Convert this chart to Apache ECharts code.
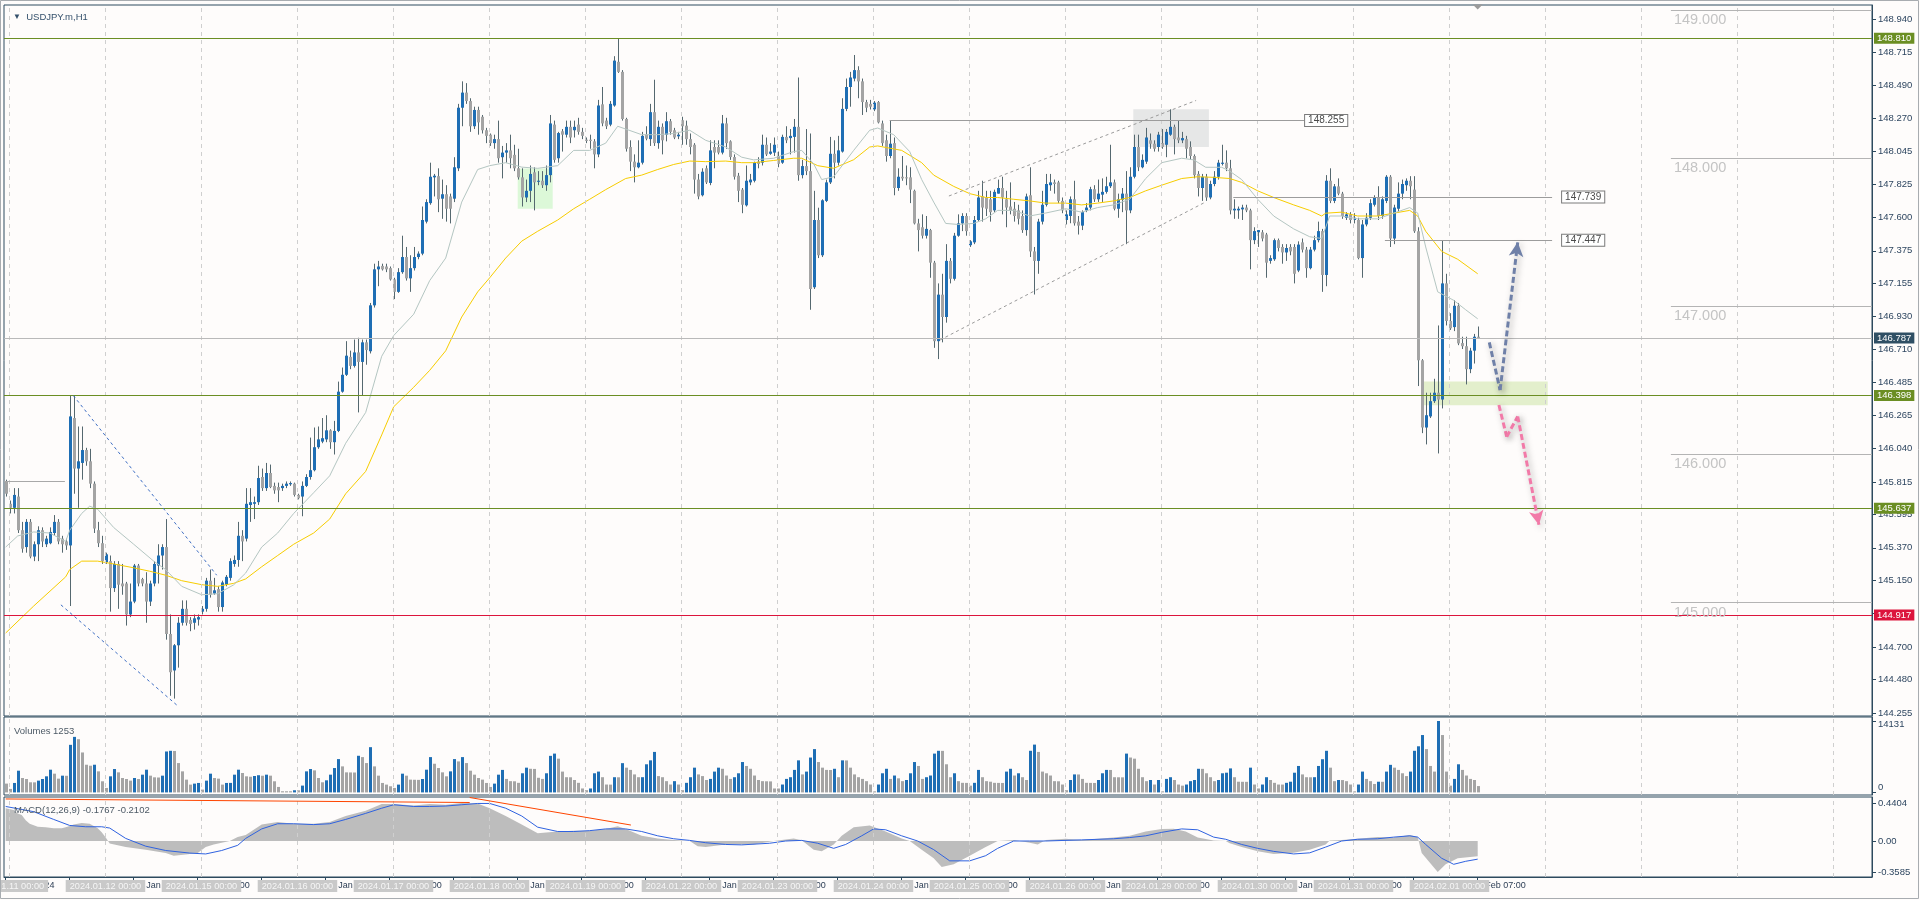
<!DOCTYPE html>
<html><head><meta charset="utf-8">
<script src="https://cdn.jsdelivr.net/npm/echarts@6/dist/echarts.min.js"></script>
<style>html,body{margin:0;padding:0;background:#fefcfb;}#c{width:1920px;height:900px;}</style>
</head><body><div id="c"></div><script>
// ---------------- DATA ----------------
// hourly candles USDJPY.m H1: [open, high, low, close]
const candles = [
[145.818,145.830,145.716,145.735],[145.667,145.689,145.602,145.640],[145.640,145.773,145.602,145.727],[145.716,145.773,145.470,145.489],[145.489,145.545,145.337,145.364],
[145.375,145.564,145.337,145.545],[145.545,145.564,145.299,145.311],[145.311,145.413,145.280,145.394],[145.394,145.515,145.280,145.489],[145.489,145.508,145.375,145.413],
[145.394,145.451,145.375,145.432],[145.401,145.508,145.394,145.477],[145.470,145.591,145.451,145.545],[145.545,145.564,145.394,145.413],[145.432,145.451,145.337,145.394],
[145.413,145.432,145.356,145.386],[145.386,146.398,144.977,146.257],[146.246,146.398,145.735,145.905],[145.905,146.189,145.640,145.954],[145.943,146.189,145.830,146.030],
[146.030,146.045,145.924,145.954],[145.954,146.038,145.773,145.803],[145.803,145.818,145.470,145.500],[145.489,145.545,145.375,145.401],[145.401,145.451,145.261,145.280],
[145.273,145.337,145.261,145.326],[145.280,145.318,144.939,145.098],[145.098,145.280,145.072,145.261],[145.261,145.280,144.958,145.121],[145.129,145.261,145.053,145.110],
[145.129,145.140,144.845,144.920],[144.920,145.129,144.902,145.007],[145.007,145.261,144.996,145.250],[145.250,145.261,145.110,145.129],[145.159,145.167,145.110,145.129],
[145.129,145.205,144.864,145.007],[145.007,145.148,144.977,145.129],[145.129,145.280,145.110,145.261],[145.250,145.394,145.129,145.318],[145.318,145.394,145.223,145.375],
[145.375,145.564,144.750,144.788],[144.788,144.920,144.371,144.530],[144.542,144.720,144.352,144.712],[144.712,144.902,144.561,144.864],[144.864,145.015,144.845,144.958],
[144.958,145.015,144.845,144.864],[144.883,144.902,144.807,144.856],[144.864,144.920,144.818,144.894],[144.886,144.920,144.845,144.902],[144.939,144.977,144.920,144.958],
[144.958,145.167,144.939,145.148],[145.148,145.223,145.034,145.053],[145.061,145.167,145.053,145.083],[145.091,145.110,144.939,144.970],[144.970,145.148,144.939,145.136],
[145.121,145.186,145.110,145.174],[145.167,145.299,145.148,145.280],[145.261,145.318,145.242,145.288],[145.288,145.545,145.242,145.451],[145.451,145.489,145.280,145.413],
[145.432,145.773,145.413,145.667],[145.659,145.773,145.545,145.678],[145.667,145.716,145.564,145.678],[145.678,145.924,145.659,145.841],[145.848,145.905,145.754,145.773],
[145.773,145.943,145.754,145.875],[145.875,145.932,145.773,145.780],[145.788,145.810,145.735,145.758],[145.780,145.810,145.678,145.758],[145.773,145.803,145.754,145.788],
[145.788,145.818,145.773,145.803],[145.799,145.818,145.788,145.807],[145.803,145.810,145.716,145.727],[145.727,145.735,145.697,145.705],[145.716,145.818,145.583,145.788],
[145.788,145.867,145.780,145.848],[145.848,146.114,145.830,145.894],[145.894,146.182,145.886,146.049],[146.049,146.189,146.038,146.102],[146.087,146.246,146.076,146.110],
[146.102,146.265,146.083,146.163],[146.163,146.170,146.038,146.083],[146.083,146.227,146.000,146.159],[146.159,146.492,146.151,146.424],[146.424,146.587,146.417,146.538],
[146.538,146.765,146.530,146.667],[146.659,146.701,146.576,146.598],[146.598,146.776,146.587,146.689],[146.689,146.788,146.284,146.625],[146.625,146.776,146.398,146.757],
[146.757,146.776,146.606,146.705],[146.697,147.023,146.682,147.007],[147.007,147.288,146.992,147.250],[147.250,147.307,147.136,147.269],[147.273,147.288,147.242,147.250],
[147.269,147.288,147.231,147.250],[147.258,147.269,147.174,147.182],[147.182,147.193,147.049,147.098],[147.098,147.258,147.091,147.231],[147.231,147.477,147.220,147.333],
[147.333,147.401,147.174,147.189],[147.189,147.345,147.098,147.258],[147.258,147.401,147.242,147.333],[147.333,147.371,147.318,147.356],[147.356,147.674,147.345,147.583],
[147.572,147.723,147.560,147.704],[147.697,147.970,147.686,147.875],[147.871,147.894,147.742,147.882],[147.879,147.932,147.636,147.723],[147.727,147.856,147.591,147.757],
[147.757,147.818,147.572,147.659],[147.742,147.761,147.560,147.659],[147.727,148.007,147.704,147.939],[147.932,148.367,147.913,148.341],[148.341,148.519,148.216,148.443],
[148.443,148.507,148.367,148.386],[148.386,148.405,148.178,148.216],[148.216,148.348,148.197,148.326],[148.326,148.348,148.159,148.242],[148.280,148.292,148.167,148.189],
[148.189,148.205,148.102,148.151],[148.159,148.167,148.083,148.102],[148.102,148.159,148.064,148.129],[148.129,148.254,147.970,148.000],[148.007,148.083,147.864,148.038],
[148.038,148.102,147.970,148.053],[148.053,148.159,147.932,148.000],[148.023,148.091,147.913,147.932],[147.932,148.064,147.856,147.871],[147.871,147.932,147.674,147.735],
[147.735,147.856,147.704,147.780],[147.780,147.951,147.704,147.894],[147.905,147.939,147.648,147.837],[147.841,147.913,147.818,147.848],[147.848,147.913,147.799,147.818],
[147.818,147.951,147.780,147.886],[147.886,148.292,147.837,148.235],[148.227,148.254,147.970,147.989],[148.000,148.178,147.970,148.170],[148.182,148.197,148.045,148.159],
[148.159,148.254,148.140,148.212],[148.212,148.254,148.102,148.140],[148.189,148.254,148.140,148.212],[148.227,148.273,148.159,148.178],[148.178,148.205,148.129,148.151],
[148.125,148.140,148.102,148.117],[148.125,148.159,148.064,148.117],[148.114,148.129,147.932,148.026],[148.026,148.394,148.007,148.356],[148.364,148.481,148.216,148.235],
[148.254,148.273,148.197,148.216],[148.227,148.386,148.216,148.367],[148.356,148.689,148.348,148.659],[148.651,148.810,148.576,148.583],[148.583,148.595,148.254,148.265],
[148.265,148.273,148.045,148.064],[148.076,148.121,147.913,147.977],[147.977,148.026,147.837,147.939],[147.939,148.121,147.932,147.970],[147.970,148.178,147.958,148.151],
[148.159,148.216,148.121,148.132],[148.129,148.367,148.083,148.311],[148.311,148.530,148.083,148.102],[148.102,148.254,148.064,148.212],[148.212,148.235,148.026,148.121],
[148.159,148.311,148.114,148.250],[148.250,148.265,148.159,148.178],[148.189,148.205,148.129,148.140],[148.148,148.178,148.129,148.159],[148.257,148.280,148.091,148.216],
[148.220,148.254,148.091,148.129],[148.129,148.167,148.026,148.076],[148.091,148.102,147.761,147.856],[147.856,147.894,147.723,147.742],[147.750,147.932,147.742,147.909],
[147.932,147.951,147.826,147.837],[147.833,148.121,147.818,148.053],[148.076,148.121,147.932,148.038],[148.076,148.121,148.026,148.038],[148.038,148.292,148.026,148.235],
[148.235,148.273,148.064,148.102],[148.114,148.121,147.989,148.008],[148.008,148.026,147.856,147.875],[147.882,147.901,147.704,147.780],[147.788,147.799,147.629,147.686],
[147.682,147.951,147.674,147.848],[147.837,147.894,147.818,147.856],[147.848,147.977,147.837,147.970],[147.977,148.007,147.932,147.962],[147.970,148.159,147.951,148.091],
[148.091,148.140,148.015,148.026],[148.030,148.102,148.023,148.045],[148.038,148.140,148.015,148.091],[148.015,148.045,147.939,147.962],[147.970,148.159,147.962,148.144],
[148.144,148.216,148.102,148.121],[148.136,148.197,148.026,148.151],[148.144,148.265,148.038,148.212],[148.212,148.545,147.848,147.886],[147.886,147.989,147.864,147.947],
[147.947,148.197,147.886,147.913],[147.913,148.167,146.977,147.117],[147.129,147.780,147.117,147.583],[147.583,147.666,147.326,147.345],[147.345,147.723,147.333,147.716],
[147.712,147.856,147.704,147.837],[147.837,148.144,147.826,148.030],[148.030,148.121,147.864,147.970],[147.970,148.151,147.951,148.053],[148.045,148.405,148.038,148.333],
[148.333,148.538,148.318,148.481],[148.481,148.583,148.348,148.545],[148.538,148.697,148.519,148.595],[148.595,148.621,148.405,148.519],[148.519,148.538,148.292,148.379],
[148.379,148.394,148.311,148.341],[148.367,148.394,148.329,148.348],[148.330,148.386,148.318,148.375],[148.379,148.386,148.235,148.242],[148.235,148.254,148.083,148.102],
[148.121,148.159,147.977,148.015],[148.015,148.254,148.000,148.098],[148.102,148.140,147.750,147.799],[147.799,147.932,147.780,147.875],[147.875,148.015,147.848,147.864],
[147.871,147.951,147.818,147.864],[147.871,147.939,147.697,147.788],[147.780,147.788,147.553,147.560],[147.560,147.591,147.371,147.515],[147.534,147.621,147.458,147.477],
[147.477,147.610,147.458,147.523],[147.515,147.523,147.193,147.295],[147.295,147.307,146.720,146.765],[146.765,147.155,146.644,147.079],[147.079,147.220,146.757,146.928],
[146.928,147.420,146.890,147.307],[147.307,147.326,147.155,147.186],[147.186,147.496,147.174,147.477],[147.477,147.621,147.470,147.560],[147.560,147.629,147.508,147.610],
[147.610,147.629,147.477,147.508],[147.413,147.447,147.401,147.439],[147.432,147.610,147.420,147.583],[147.583,147.780,147.572,147.735],[147.742,147.848,147.572,147.667],
[147.735,147.780,147.610,147.659],[147.723,147.780,147.572,147.636],[147.648,147.788,147.636,147.773],[147.761,147.856,147.761,147.799],[147.799,147.875,147.621,147.735],
[147.723,147.780,147.534,147.667],[147.674,147.837,147.621,147.648],[147.659,147.705,147.572,147.610],[147.648,147.686,147.553,147.591],[147.610,147.648,147.496,147.515],
[147.515,147.761,147.477,147.742],[147.750,147.939,147.333,147.371],[147.371,147.401,147.080,147.307],[147.307,147.591,147.220,147.572],[147.572,147.780,147.553,147.686],
[147.686,147.894,147.674,147.826],[147.818,147.894,147.780,147.837],[147.837,147.856,147.761,147.826],[147.837,147.848,147.697,147.712],[147.712,147.735,147.629,147.648],
[147.583,147.648,147.553,147.621],[147.610,147.742,147.561,147.723],[147.723,147.848,147.545,147.561],[147.572,147.610,147.485,147.545],[147.545,147.648,147.515,147.636],
[147.648,147.697,147.636,147.667],[147.667,147.807,147.648,147.791],[147.791,147.818,147.705,147.723],[147.723,147.856,147.705,147.761],[147.754,147.864,147.705,147.773],
[147.773,147.875,147.761,147.811],[147.811,148.091,147.799,147.837],[147.837,147.856,147.648,147.659],[147.659,147.761,147.598,147.723],[147.720,147.799,147.636,147.761],
[147.761,147.913,147.420,147.648],[147.648,147.939,147.629,147.875],[147.875,148.159,147.864,148.076],[148.076,148.159,147.913,147.939],[147.939,148.026,147.932,147.989],
[147.977,148.205,147.962,148.140],[148.121,148.167,148.064,148.098],[148.098,148.121,148.045,148.064],[148.076,148.178,148.045,148.159],[148.102,148.197,148.064,148.076],
[148.091,148.197,148.007,148.178],[148.159,148.330,148.151,148.212],[148.212,148.227,148.026,148.129],[148.140,148.254,148.102,148.121],[148.121,148.178,148.102,148.136],
[148.129,148.151,148.000,148.064],[148.076,148.114,147.989,148.015],[148.015,148.026,147.864,147.886],[147.894,147.913,147.742,147.799],[147.799,147.894,147.712,147.875],
[147.875,147.894,147.712,147.735],[147.735,147.848,147.723,147.826],[147.826,147.913,147.811,147.875],[147.875,147.989,147.856,147.970],[147.962,148.091,147.951,147.970],
[147.970,148.053,147.913,147.932],[147.932,147.989,147.621,147.648],[147.648,147.723,147.591,147.659],[147.648,147.674,147.591,147.659],[147.655,147.686,147.583,147.667],
[147.667,147.686,147.636,147.648],[147.648,147.659,147.250,147.447],[147.447,147.534,147.420,147.508],[147.500,147.515,147.401,147.515],[147.500,147.515,147.439,147.458],
[147.485,147.496,147.193,147.295],[147.307,147.345,147.288,147.326],[147.318,147.458,147.307,147.447],[147.447,147.458,147.371,147.394],[147.401,147.420,147.288,147.364],
[147.364,147.420,147.307,147.394],[147.401,147.420,147.345,147.371],[147.401,147.420,147.155,147.220],[147.242,147.439,147.231,147.417],[147.432,147.458,147.364,147.383],
[147.383,147.401,147.193,147.258],[147.258,147.401,147.250,147.383],[147.383,147.477,147.371,147.447],[147.447,147.572,147.432,147.508],[147.508,147.523,147.098,147.212],
[147.212,147.886,147.136,147.848],[147.848,147.932,147.697,147.712],[147.712,147.826,147.697,147.810],[147.810,147.864,147.750,147.761],[147.761,147.773,147.591,147.610],
[147.598,147.636,147.583,147.621],[147.621,147.636,147.560,147.583],[147.583,147.629,147.560,147.598],[147.583,147.598,147.318,147.326],[147.326,147.583,147.193,147.553],
[147.553,147.629,147.540,147.598],[147.598,147.723,147.583,147.697],[147.686,147.750,147.674,147.735],[147.735,147.811,147.583,147.610],[147.610,147.742,147.591,147.723],
[147.712,147.886,147.697,147.875],[147.875,147.886,147.401,147.458],[147.458,147.686,147.420,147.667],[147.659,147.837,147.636,147.761],[147.761,147.856,147.723,147.826],
[147.818,147.864,147.780,147.848],[147.848,147.879,147.723,147.811],[147.788,147.879,147.496,147.507],[147.507,147.534,146.462,146.636],[146.636,146.644,146.144,146.182],
[146.182,146.417,146.068,146.265],[146.257,146.417,146.246,146.360],[146.360,146.511,146.348,146.417],[146.417,146.871,146.007,146.371],[146.371,147.447,146.311,147.155],
[147.155,147.220,146.871,146.901],[146.901,146.954,146.841,146.852],[146.860,147.042,146.833,147.004],[147.004,147.023,146.738,146.750],[146.752,146.795,146.712,146.731],
[146.731,146.795,146.473,146.576],[146.576,146.720,146.549,146.701],[146.701,146.814,146.614,146.795],[146.795,146.864,146.780,146.787]
];
// tick volumes per bar
const volumes = [
1738,689,1870,4297,2854,2657,2001,1990,2329,2657, 3182,4494,3706,2722,3313,3290,9414,10988,10529,7905,
5478,5281,5478,4166,2198,886,3182,4625,3969,2854, 2657,2329,2854,2657,3510,4494,3313,2985,2950,3313,
8102,8233,8200,5806,4166,2526,1542,1738,1870,558, 2329,3706,2854,2722,1542,1870,1880,3510,4494,3838,
3182,3100,3250,3400,3300,3510,3313,2198,1082,230, 228,226,426,420,1345,4166,4625,4362,2854,2001,
2394,3510,4822,6593,5150,3969,3950,3940,7249,6986, 5806,8954,5150,3313,1870,1542,1214,886,1542,3706,
3313,2526,2500,2480,2657,4494,6986,5674,4822,3969, 3182,4166,6593,6134,6986,5806,4297,3510,2854,2526,
1870,1082,1738,3510,4452,2671,2226,2200,1892,3784, 4897,4675,4650,2894,2671,3784,7235,7680,6678,4118,
3005,2990,2449,1892,779,445,779,3784,4118,3005, 1558,1540,3005,2990,5788,4897,4452,3562,3005,3010,
5565,6344,8014,3228,3005,2226,1558,2226,1558,445, 1892,3005,4897,3562,3228,2449,2671,4118,4897,4675,
3339,2671,3005,3784,6010,5231,4675,3339,2449,2226, 2200,2180,779,770,1558,2671,3005,4452,6344,3562,
4118,6901,8570,6010,4897,4452,4430,4675,3005,6344, 6330,4897,3562,3005,2671,2226,1558,223,1558,3784,
4675,2671,3339,2783,2226,2449,3784,6010,5231,2671, 3005,3339,7680,8236,8220,5565,3005,3784,2226,1892,
1880,1336,1892,4452,3005,2226,2115,1892,1880,1870, 4118,4675,3339,3784,3005,2449,8236,9461,8014,4118,
3784,3339,2226,2200,1558,445,2449,3562,3550,2671, 1892,1880,1870,2449,3784,4452,4440,3005,2990,2980,
7680,6901,6678,4675,3005,2226,2449,1558,2449,223, 2671,3005,2449,1558,1336,1558,2226,2449,4675,4660,
3784,3005,2226,2449,3784,3900,4750,3005,2115,2100, 2090,4897,1558,779,1558,3005,2449,1892,1558,1550,
1892,2115,3896,5231,3562,3005,2990,3010,5231,6567, 8236,4897,2226,2449,2440,2226,1558,223,1558,4118,
2671,2226,1670,2115,2100,4118,5454,4897,4452,3784, 3228,4118,8236,9127,11353,8570,5231,4118,14131,11353,
4118,1336,2671,5565,4452,3339,2671,2449,1253
];
// moving averages: [bar index, price]
const maSlow = [[0,144.795],[7,144.977],[15,145.174],[16,145.223],[19,145.28],[23,145.28],[27,145.261],[32,145.235],[36,145.212],[40,145.185],[44,145.148],[49,145.121],[53,145.11],[57,145.13],[60,145.16],[64,145.242],[68,145.318],[72,145.394],[77,145.47],[81,145.564],[85,145.735],[90,145.886],[94,146.132],[97,146.322],[102,146.454],[106,146.568],[110,146.70],[114,146.928],[118,147.098],[121,147.193],[125,147.326],[129,147.44],[133,147.507],[138,147.583],[142,147.659],[146,147.723],[150,147.788],[155,147.863],[159,147.886],[163,147.924],[167,147.958],[171,147.981],[175,147.977],[180,147.981],[184,147.97],[187,147.97],[192,147.985],[197,148.0],[199,148.0],[203,147.95],[207,147.932],[212,147.99],[216,148.076],[218,148.083],[224,148.053],[229,147.97],[232,147.886],[237,147.81],[241,147.761],[245,147.735],[248,147.735],[252,147.723],[256,147.712],[260,147.697],[265,147.697],[269,147.685],[273,147.697],[277,147.712],[281,147.735],[285,147.78],[289,147.818],[294,147.863],[298,147.875],[302,147.871],[306,147.863],[309,147.837],[313,147.78],[317,147.735],[322,147.685],[326,147.648],[329,147.61],[330,147.629],[334,147.636],[338,147.61],[343,147.61],[347,147.629],[351,147.648],[353,147.61],[355,147.507],[359,147.371],[363,147.318],[368,147.22]];
const maFast = [[0,145.375],[3,145.45],[7,145.477],[11,145.47],[15,145.413],[16,145.488],[19,145.602],[21,145.651],[23,145.63],[27,145.507],[32,145.394],[37,145.28],[40,145.223],[44,145.11],[49,145.053],[53,145.06],[57,145.12],[60,145.2],[64,145.375],[68,145.47],[72,145.602],[77,145.742],[81,145.856],[85,146.076],[90,146.284],[94,146.663],[97,146.803],[102,146.947],[106,147.174],[110,147.326],[114,147.704],[118,147.924],[121,147.95],[125,147.97],[129,147.94],[133,147.932],[138,147.95],[142,148.053],[146,148.053],[150,148.102],[153,148.216],[159,148.159],[163,148.159],[167,148.167],[171,148.189],[175,148.121],[180,148.076],[184,148.007],[187,147.989],[192,148.0],[197,148.045],[199,148.053],[202,147.962],[204,147.856],[207,147.875],[212,148.053],[216,148.189],[218,148.204],[222,148.159],[226,148.045],[229,147.856],[232,147.704],[235,147.56],[238,147.553],[242,147.56],[245,147.591],[248,147.648],[252,147.648],[256,147.61],[260,147.63],[265,147.659],[269,147.636],[273,147.667],[277,147.685],[281,147.723],[285,147.863],[289,147.97],[294,148.0],[297,147.989],[300,147.939],[304,147.939],[306,147.913],[309,147.856],[313,147.723],[317,147.61],[322,147.523],[326,147.47],[329,147.458],[331,147.61],[334,147.61],[338,147.591],[343,147.591],[347,147.629],[351,147.667],[353,147.63],[355,147.401],[358,147.098],[362,147.041],[365,146.977],[368,146.916]];
// MACD(12,26,9): [bar index, value]
const macdHist = [[0,0.38],[2,0.36],[3,0.32],[4,0.30],[5,0.24],[6,0.2],[8,0.166],[10,0.16],[12,0.147],[14,0.147],[15,0.16],[16,0.174],[17,0.19],[19,0.21],[21,0.20],[22,0.174],[23,0.147],[24,0.1],[25,0.04],[26,-0.03],[30,-0.07],[35,-0.1],[40,-0.14],[42,-0.17],[45,-0.155],[48,-0.14],[50,-0.07],[52,-0.04],[54,-0.02],[56,0.0],[58,0.045],[60,0.07],[64,0.19],[68,0.22],[72,0.2],[77,0.2],[81,0.22],[85,0.29],[90,0.35],[94,0.43],[97,0.43],[102,0.41],[106,0.43],[110,0.42],[114,0.4404],[118,0.435],[121,0.38],[125,0.29],[129,0.19],[133,0.09],[138,0.11],[142,0.12],[146,0.12],[150,0.14],[153,0.17],[155,0.14],[159,0.06],[163,0.03],[167,0.013],[171,0.0],[173,-0.06],[175,-0.07],[180,-0.04],[184,-0.04],[187,-0.04],[192,0.0],[197,0.03],[199,0.01],[202,-0.1],[204,-0.12],[207,-0.04],[209,0.06],[212,0.16],[216,0.18],[220,0.11],[224,0.03],[226,0.0],[229,-0.1],[232,-0.2],[234,-0.3],[237,-0.27],[241,-0.17],[245,-0.07],[248,0.0],[252,0.013],[256,-0.02],[258,-0.04],[260,0.013],[265,0.026],[269,0.013],[273,0.026],[277,0.04],[281,0.06],[285,0.11],[289,0.14],[292,0.143],[295,0.11],[298,0.04],[302,0.007],[305,0.0],[306,-0.026],[309,-0.07],[313,-0.12],[317,-0.15],[322,-0.137],[326,-0.1],[330,-0.04],[331,0.007],[334,0.013],[338,0.026],[343,0.045],[347,0.04],[351,0.07],[353,0.045],[354,-0.14],[356,-0.25],[358,-0.3585],[360,-0.27],[363,-0.2],[368,-0.1767]];
const macdSignal = [[0,0.40],[7,0.34],[12,0.25],[16,0.18],[20,0.165],[24,0.165],[26,0.15],[30,0.03],[35,-0.06],[40,-0.11],[46,-0.14],[50,-0.15],[54,-0.11],[58,-0.05],[60,0.03],[64,0.14],[68,0.2],[72,0.2],[77,0.19],[81,0.2],[85,0.25],[90,0.32],[94,0.38],[97,0.42],[102,0.40],[106,0.40],[110,0.405],[114,0.42],[118,0.435],[121,0.435],[125,0.38],[129,0.29],[133,0.16],[138,0.11],[142,0.11],[146,0.12],[150,0.14],[155,0.14],[159,0.11],[163,0.06],[167,0.026],[171,0.007],[175,-0.02],[180,-0.04],[184,-0.045],[191,-0.026],[195,0.0],[199,0.007],[203,-0.026],[207,-0.085],[210,-0.04],[214,0.06],[217,0.14],[220,0.13],[224,0.06],[228,0.0],[232,-0.1],[236,-0.23],[241,-0.23],[245,-0.17],[248,-0.085],[252,0.0],[256,0.0],[260,0.0],[269,0.013],[277,0.026],[281,0.04],[285,0.06],[289,0.1],[294,0.14],[298,0.13],[302,0.045],[305,0.02],[309,-0.04],[313,-0.085],[317,-0.12],[322,-0.15],[326,-0.137],[330,-0.07],[334,0.0],[338,0.02],[343,0.026],[347,0.045],[351,0.06],[353,0.045],[355,-0.04],[359,-0.2],[362,-0.27],[365,-0.235],[368,-0.2102]];
// axis tick labels
const priceTicks = [148.940,148.715,148.490,148.270,148.045,147.825,147.600,147.375,147.155,146.930,146.710,146.485,146.265,146.040,145.815,145.595,145.370,145.150,144.925,144.700,144.480,144.255];
const priceLabels = [148.940,148.715,148.490,148.270,148.045,147.825,147.600,147.375,147.155,146.930,146.710,146.485,146.265,146.040,145.815,145.595,145.370,145.150,144.700,144.480,144.255];
const volumeLabels = [0, 14131];
const macdLabels = [-0.3585, 0, 0.4404];
const timeTickIdx = [0,16,32,48,64,80,96,112,128,144,160,176,192,208,224,240,256,272,288,304,320,336,352,368];
const timeTickText = ['11 Jan 2024','12 Jan 15:00','15 Jan 07:00','15 Jan 23:00','16 Jan 15:00','17 Jan 07:00','17 Jan 23:00','18 Jan 15:00','19 Jan 07:00','19 Jan 23:00','22 Jan 15:00','23 Jan 07:00','23 Jan 23:00','24 Jan 15:00','25 Jan 07:00','25 Jan 23:00','26 Jan 15:00','29 Jan 07:00','29 Jan 23:00','30 Jan 15:00','31 Jan 07:00','31 Jan 23:00','1 Feb 15:00','2 Feb 07:00'];
const dayBoxIdx = [15,39,63,87,111,135,159,183,207,231,255,279,303,327,351];
const dayBoxText = ['2024.01.12 00:00','2024.01.15 00:00','2024.01.16 00:00','2024.01.17 00:00','2024.01.18 00:00','2024.01.19 00:00','2024.01.22 00:00','2024.01.23 00:00','2024.01.24 00:00','2024.01.25 00:00','2024.01.26 00:00','2024.01.29 00:00','2024.01.30 00:00','2024.01.31 00:00','2024.02.01 00:00'];
const firstDayBoxText = '2024.01.11 00:00';
// chart objects (levels etc.)
const greenLevels = [148.810, 146.398, 145.637];
const redLevels = [144.917];
const bidPrice = 146.787;
const roundLevels = [149, 148, 147, 146, 145];
const priorLevel = 145.822;
const labelledLines = [ // [startBar, price]
  [221, 148.255], [306.9, 147.739], [344.8, 147.447]
];
const channelDown = [[[16.9,146.398],[52.75,145.185]], [[13.8,144.985],[43,144.303]]];
const channelUp = [[[235.8,147.745],[297.6,148.39]], [[233.6,146.773],[300,147.705]]];
const zonesGreen = [[[128,147.931],[136.75,147.659]]];
const zonesGray = [[[281.9,148.33],[300.8,148.076]]];
const zonesTarget = [[[354.2,146.492],[385.5,146.333]]];
const arrowUp = [[370.9,146.757],[373.6,146.435],[378,147.432]];
const arrowDown = [[373.3,146.334],[375.25,146.12],[378,146.257],[383.3,145.526]];
const macdDivergence = [[[0,0.487],[116,0.446]], [[116,0.504],[156.3,0.185]]];

// ---------------- STYLE ----------------
const FONT = '"Liberation Sans", Arial, sans-serif';
const FRAME = '#2d4a5e', TXT = '#2e4660';
const UP = '#1e6eb4', DN = '#a4a4a4', WICK = '#55686f';
const GREEN = '#6b8e23', RED = '#dc143c';
const X_MIN = -0.425, X_MAX = 466.575;
const gridLineBars = []; for (let k = 0; k < 20; k++) gridLineBars.push(0.9 + 24 * k);
const vGrid = gridLineBars.map(x => ({xAxis: x}));
const vGridStyle = {color: '#cfcfcf', type: [4, 4], width: 1};

const candleData = candles.map((c, i) => [i, c[0], c[1], c[2], c[3]]);
const volData = volumes.map((v, i) => [i, v, i > 0 ? volumes[i - 1] : 1e9]);

function renderCandle(params, api) {
  const i = api.value(0), o = api.value(1), h = api.value(2), l = api.value(3), c = api.value(4);
  const pO = api.coord([i, o]), pC = api.coord([i, c]), pH = api.coord([i, h]), pL = api.coord([i, l]);
  const cx = Math.round(pO[0]);
  const top = Math.min(pO[1], pC[1]), bot = Math.max(pO[1], pC[1]);
  return {type: 'group', children: [
    {type: 'line', shape: {x1: cx + 0.5, y1: pH[1], x2: cx + 0.5, y2: pL[1]}, style: {stroke: WICK, lineWidth: 1}},
    {type: 'rect', shape: {x: cx - 1, y: top, width: 3, height: Math.max(1, bot - top)}, style: {fill: c >= o ? UP : DN}}
  ]};
}
function renderVol(params, api) {
  const i = api.value(0), v = api.value(1), prev = api.value(2);
  const p = api.coord([i, v]), b = api.coord([i, 0]);
  const cx = Math.round(p[0]);
  return {type: 'rect', shape: {x: cx - 1, y: p[1], width: 3, height: b[1] - p[1]}, style: {fill: v > prev ? UP : DN}};
}

const timeMap = {}; timeTickIdx.forEach((v, k) => timeMap[v] = timeTickText[k]);
const dayMap = {}; dayBoxIdx.forEach((v, k) => dayMap[v] = dayBoxText[k]);

function xAxisBase(grid) {
  return {type: 'value', gridIndex: grid, min: X_MIN, max: X_MAX, axisLine: {show: false, onZero: false},
    axisTick: {show: false}, axisLabel: {show: false}, splitLine: {show: false}};
}
const boxLabelStyle = {fontFamily: FONT, fontSize: 9.2, color: '#f6f6f6', backgroundColor: '#c9c9c9', padding: [2, 4, 1, 4]};

const levelLabel = (bg, v) => ({show: true, position: 'end', distance: 2, formatter: v.toFixed(3),
  backgroundColor: bg, color: '#ffffff', padding: [1, 3, 0, 3], fontFamily: FONT, fontSize: 9.5});
const boxedLabel = (v, d) => ({show: true, position: 'end', distance: d, formatter: v.toFixed(3),
  backgroundColor: '#ffffff', borderColor: '#7a7a7a', borderWidth: 1, color: '#4a4a4a', padding: [1, 3, 0, 3], fontFamily: FONT, fontSize: 10});

const levelLines = [];
greenLevels.forEach(v => levelLines.push({yAxis: v, lineStyle: {color: GREEN, width: 1, type: 'solid'}, label: levelLabel(GREEN, v)}));
redLevels.forEach(v => levelLines.push({yAxis: v, lineStyle: {color: RED, width: 1, type: 'solid'}, label: levelLabel(RED, v)}));
levelLines.push({yAxis: bidPrice, lineStyle: {color: '#b9b9b9', width: 1, type: 'solid'}, label: levelLabel('#2f4f64', bidPrice)});
roundLevels.forEach(v => levelLines.push([
  {coord: [416.3, v], lineStyle: {color: '#b4b4b4', width: 1, type: 'solid'},
   label: {show: true, position: 'insideStartBottom', distance: 3, formatter: v.toFixed(3), color: '#c4c4c4', fontSize: 14.5, lineHeight: 14, fontFamily: FONT, padding: 0}},
  {coord: [X_MAX, v]}]));
levelLines.push([{coord: [X_MIN, priorLevel], lineStyle: {color: '#a8a8a8', width: 1, type: 'solid'}, label: {show: false}}, {coord: [14.8, priorLevel]}]);
labelledLines.forEach((ln, k) => {
  const end = k === 0 ? 324.6 : 386.6;
  levelLines.push([{coord: [ln[0], ln[1]], lineStyle: {color: '#9c9c9c', width: 1, type: 'solid'}, label: boxedLabel(ln[1], k === 0 ? 1 : 10)}, {coord: [end, ln[1]]}]);
});
channelDown.forEach(s => levelLines.push([{coord: s[0], lineStyle: {color: '#3f6fc4', width: 1, type: [3, 3]}, label: {show: false}}, {coord: s[1]}]));
channelUp.forEach(s => levelLines.push([{coord: s[0], lineStyle: {color: '#9a9a9a', width: 1, type: [3, 3]}, label: {show: false}}, {coord: s[1]}]));
function arrowSegs(pts, color) {
  const st = {color: color, width: 3, type: [6, 3], shadowBlur: 6, shadowColor: 'rgba(0,0,0,0.35)', shadowOffsetX: 2, shadowOffsetY: 2};
  for (let k = 0; k < pts.length - 1; k++) {
    const last = k === pts.length - 2;
    levelLines.push([{coord: pts[k], symbol: 'none', lineStyle: st, label: {show: false}},
      {coord: pts[k + 1], symbol: last ? 'arrow' : 'none', symbolSize: last ? [11, 14] : 0, itemStyle: {color: color}}]);
  }
}
arrowSegs(arrowUp, '#6f80a8');
arrowSegs(arrowDown, '#f27aa8');

const zoneAreas = [];
zonesGreen.forEach(z => zoneAreas.push([{coord: z[0], itemStyle: {color: '#dcf8d8'}}, {coord: z[1]}]));
zonesGray.forEach(z => zoneAreas.push([{coord: z[0], itemStyle: {color: '#e6e7e7'}}, {coord: z[1]}]));
zonesTarget.forEach(z => zoneAreas.push([{coord: z[0], itemStyle: {color: '#e3efcc'}}, {coord: z[1]}]));

const yLabelStyle = {fontFamily: FONT, fontSize: 9.5, color: TXT, margin: 6};
const gridBase = {left: 4, width: 1868, show: true, borderColor: FRAME, borderWidth: 1, backgroundColor: 'transparent', containLabel: false, outerBoundsMode: 'none'};

const option = {
  animation: false,
  backgroundColor: '#fefcfb',
  textStyle: {fontFamily: FONT},
  title: [
    {text: '{a|▼}  USDJPY.m,H1', left: 8, top: 7, textStyle: {fontFamily: FONT, fontSize: 9.5, fontWeight: 'normal', color: '#34506b', rich: {a: {fontSize: 8, color: '#34506b'}}}},
    {text: 'Volumes ' + volumes[volumes.length - 1], left: 9, top: 721, textStyle: {fontFamily: FONT, fontSize: 9.5, fontWeight: 'normal', color: '#4d5a66'}},
    {text: 'MACD(12,26,9) ' + macdHist[macdHist.length - 1][1].toFixed(4) + ' ' + macdSignal[macdSignal.length - 1][1].toFixed(4), left: 9, top: 800, textStyle: {fontFamily: FONT, fontSize: 9.5, fontWeight: 'normal', color: '#4d5a66'}}
  ],
  grid: [
    Object.assign({top: 5, height: 711}, gridBase),
    Object.assign({top: 717, height: 78}, gridBase),
    Object.assign({top: 797, height: 80}, gridBase)
  ],
  xAxis: [
    xAxisBase(0), xAxisBase(1),
    Object.assign(xAxisBase(2), {position: 'bottom', z: 1,
      axisLine: {show: true, onZero: false, lineStyle: {color: FRAME}},
      axisTick: {show: true, customValues: timeTickIdx, length: 4, lineStyle: {color: FRAME}},
      axisLabel: {show: true, customValues: timeTickIdx, formatter: v => timeMap[v] || '', align: 'left', margin: 4, fontFamily: FONT, fontSize: 9, color: '#2d3e55'}}),
    Object.assign(xAxisBase(2), {position: 'bottom', z: 5,
      axisLabel: Object.assign({show: true, customValues: dayBoxIdx, formatter: v => dayMap[v] || '', align: 'left', margin: 3}, boxLabelStyle)}),
    Object.assign(xAxisBase(2), {position: 'bottom', z: 5,
      axisLabel: Object.assign({show: true, customValues: [10.6], formatter: () => firstDayBoxText, align: 'right', margin: 3}, boxLabelStyle)})
  ],
  yAxis: [
    {type: 'value', gridIndex: 0, position: 'right', min: 144.2345, max: 149.0345, splitLine: {show: false},
      axisLine: {show: true, onZero: false, lineStyle: {color: FRAME}},
      axisTick: {show: true, customValues: priceTicks, length: 4, lineStyle: {color: FRAME}},
      axisLabel: Object.assign({customValues: priceLabels, formatter: v => v.toFixed(3)}, yLabelStyle)},
    {type: 'value', gridIndex: 1, position: 'right', min: -515, max: 14923, splitLine: {show: false},
      axisLine: {show: true, onZero: false, lineStyle: {color: FRAME}},
      axisTick: {show: true, customValues: volumeLabels, length: 4, lineStyle: {color: FRAME}},
      axisLabel: Object.assign({customValues: volumeLabels, formatter: v => v === 0 ? '{b|0}' : '{t|' + v + '}',
        rich: {t: {padding: [6, 0, 0, 0], fontFamily: FONT, fontSize: 9.5, color: TXT}, b: {padding: [0, 0, 10, 0], fontFamily: FONT, fontSize: 9.5, color: TXT}}}, yLabelStyle)},
    {type: 'value', gridIndex: 2, position: 'right', min: -0.417, max: 0.5098, splitLine: {show: false},
      axisLine: {show: true, onZero: false, lineStyle: {color: FRAME}},
      axisTick: {show: true, customValues: macdLabels, length: 4, lineStyle: {color: FRAME}},
      axisLabel: Object.assign({customValues: macdLabels, formatter: v => v === 0 ? '0.00' : v.toFixed(4)}, yLabelStyle)}
  ],
  series: [
    {name: 'bg0', type: 'line', xAxisIndex: 0, yAxisIndex: 0, data: [], z: 1, clip: false, silent: true,
      markLine: {silent: true, symbol: 'none', label: {show: false}, lineStyle: vGridStyle, data: vGrid},
      markArea: {silent: true, data: zoneAreas}},
    {name: 'candles', type: 'custom', xAxisIndex: 0, yAxisIndex: 0, data: candleData, renderItem: renderCandle, z: 3, silent: true,
      encode: {x: 0, y: [1, 2, 3, 4]}},
    {name: 'maSlow', type: 'line', xAxisIndex: 0, yAxisIndex: 0, data: maSlow, showSymbol: false, z: 4, silent: true,
      lineStyle: {color: '#f7cd00', width: 1}},
    {name: 'maFast', type: 'line', xAxisIndex: 0, yAxisIndex: 0, data: maFast, showSymbol: false, z: 4, silent: true,
      lineStyle: {color: '#b4c6c2', width: 1}},
    {name: 'levels', type: 'line', xAxisIndex: 0, yAxisIndex: 0, data: [], z: 6, clip: false, silent: true,
      markLine: {silent: true, symbol: 'none', precision: 3, data: levelLines},
      markPoint: {silent: true, data: [{coord: [368, 149.0345], symbol: 'triangle', symbolSize: [10, 5], symbolRotate: 180, symbolOffset: [0, 2], itemStyle: {color: '#9a9a9a'}, label: {show: false}}]}},
    {name: 'bg1', type: 'line', xAxisIndex: 1, yAxisIndex: 1, data: [], z: 1, clip: false, silent: true,
      markLine: {silent: true, symbol: 'none', label: {show: false}, lineStyle: vGridStyle, data: vGrid}},
    {name: 'volumes', type: 'custom', xAxisIndex: 1, yAxisIndex: 1, data: volData, renderItem: renderVol, z: 3, silent: true,
      encode: {x: 0, y: 1}},
    {name: 'bg2', type: 'line', xAxisIndex: 2, yAxisIndex: 2, data: [], z: 1, clip: false, silent: true,
      markLine: {silent: true, symbol: 'none', label: {show: false}, lineStyle: vGridStyle, data: vGrid}},
    {name: 'macdHist', type: 'line', xAxisIndex: 2, yAxisIndex: 2, data: macdHist, showSymbol: false, z: 2, silent: true,
      lineStyle: {width: 0, opacity: 0}, areaStyle: {color: '#bdbdbd', opacity: 1, origin: 0}},
    {name: 'macdSignal', type: 'line', xAxisIndex: 2, yAxisIndex: 2, data: macdSignal, showSymbol: false, z: 4, silent: true,
      lineStyle: {color: '#2f62e0', width: 1},
      markLine: {silent: true, symbol: 'none', label: {show: false},
        data: macdDivergence.map(s => [{coord: s[0], lineStyle: {color: '#ff4500', width: 1, type: 'solid'}}, {coord: s[1]}])}}
  ],
  graphic: [{type: 'rect', shape: {x: 0.5, y: 0.5, width: 1918, height: 898}, style: {fill: 'none', stroke: '#a8acb0', lineWidth: 1}, silent: true, z: 100}]
};
const chart = echarts.init(document.getElementById('c'), null, {width: 1920, height: 900});
chart.setOption(option);
</script></body></html>
